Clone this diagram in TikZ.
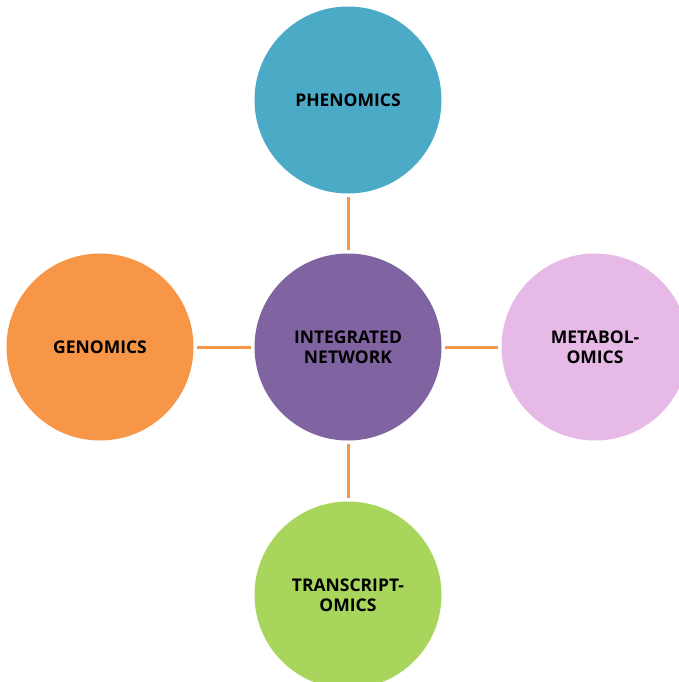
\documentclass[tikz,border=0pt]{standalone}
\usepackage{fontspec}
\setmainfont{Open Sans}
\definecolor{cteal}{HTML}{4BAAC6}
\definecolor{cpurple}{HTML}{8064A2}
\definecolor{corange}{HTML}{F79646}
\definecolor{cpink}{HTML}{E6B9E6}
\definecolor{cgreen}{HTML}{A8D65C}
\definecolor{cline}{HTML}{F79646}
\tikzset{
  omic/.style={circle, minimum size=187pt, inner sep=0pt, align=center,
    font=\fontsize{17.5}{20.5}\selectfont\bfseries, text=black},
  link/.style={draw=cline, line width=3pt, shorten >=3pt, shorten <=3pt}
}
\begin{document}
\begin{tikzpicture}[x=1pt,y=-1pt]
\useasboundingbox[fill=white] (0,0) rectangle (678,682);
\node[omic, fill=cpurple] (center) at (348,347) {INTEGRATED\\NETWORK};
\node[omic, fill=cteal] (phen) at (348,100) {PHENOMICS};
\node[omic, fill=corange] (gen) at (100,347) {GENOMICS};
\node[omic, fill=cpink] (met) at (595,347) {METABOL-\\OMICS};
\node[omic, fill=cgreen] (trans) at (348,595) {TRANSCRIPT-\\OMICS};
\draw[link] (phen) -- (center);
\draw[link] (gen) -- (center);
\draw[link] (center) -- (met);
\draw[link] (center) -- (trans);
\end{tikzpicture}
\end{document}
